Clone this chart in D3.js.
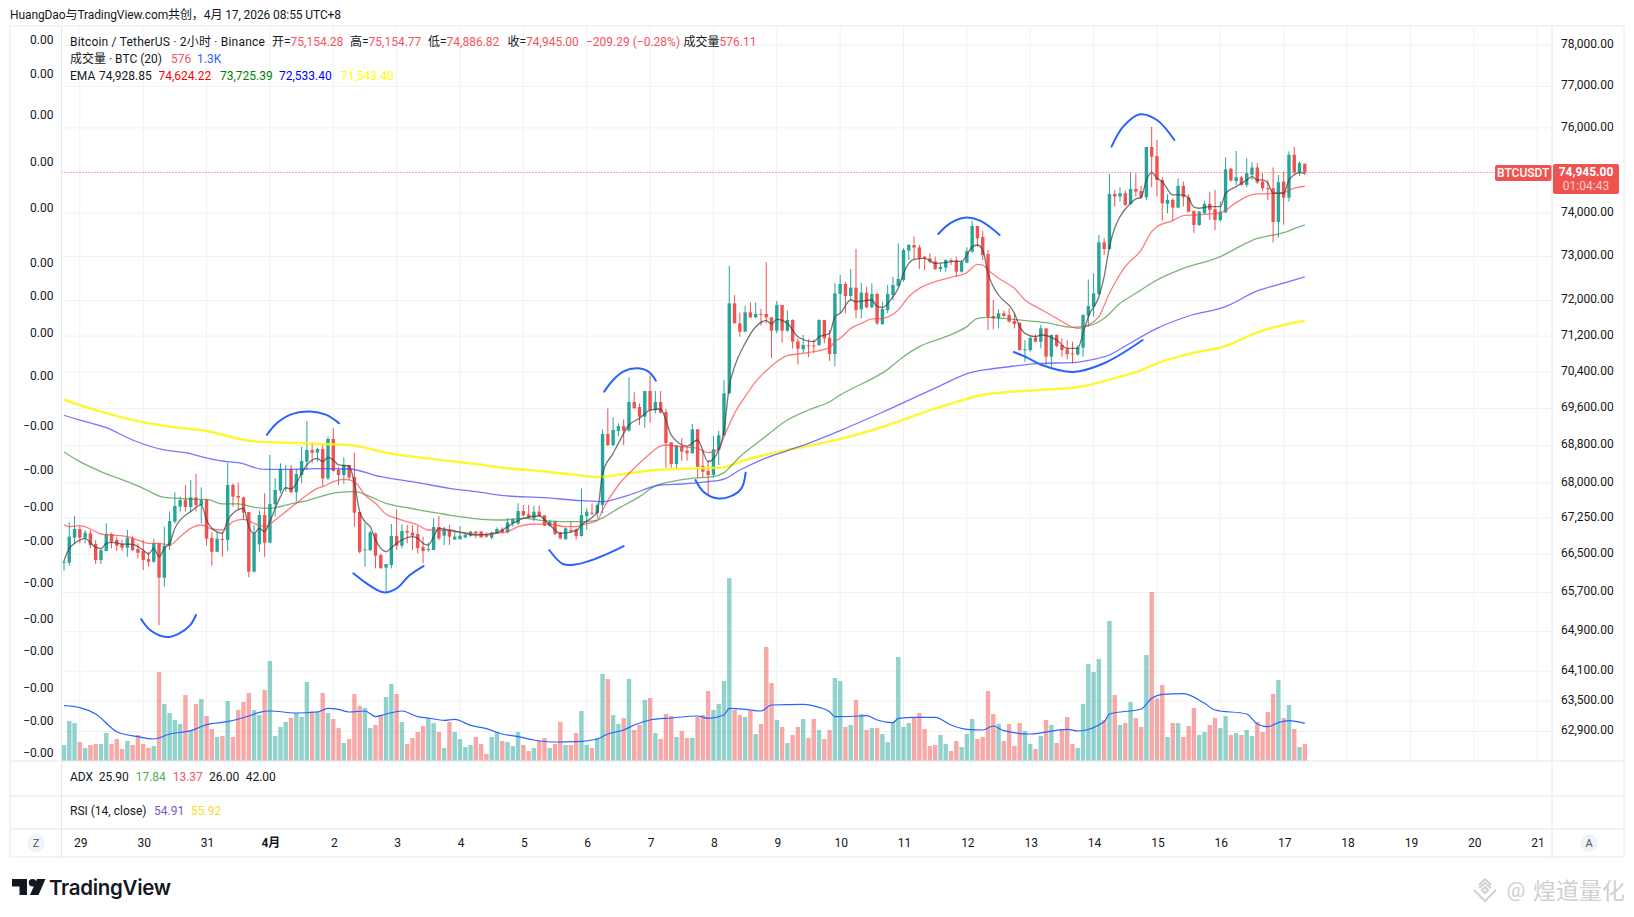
<!DOCTYPE html>
<html><head><meta charset="utf-8">
<script src="https://cdnjs.cloudflare.com/ajax/libs/d3/7.8.5/d3.min.js"></script>
<style>
html,body{margin:0;padding:0;background:#fff;overflow:hidden}
svg{display:block}
text{font-family:Roboto,"Noto Sans CJK SC",sans-serif;font-size:12px;fill:#131722}
</style></head><body>
<svg id="c" width="1634" height="917"></svg>
<script>
// ---------- DATA (2h BTCUSDT bars, first bar = 28 Mar 18:00) ----------
const opens=[66318,66318,66840,67022,66840,66931,66707,66373,66560,66917,66791,66707,66630,66826,66602,66560,66392,66338,66721,66007,66672,67176,67494,67634,67487,67691,67529,67648,66833,66546,66812,66791,67953,67720,67691,67381,66132,66700,67316,66735,67543,67833,67882,68295,67798,68166,68452,68703,68645,68725,68095,68940,68273,68166,68381,68123,67381,66581,66581,66931,66476,66214,66270,66875,66672,66980,66945,66917,66644,66588,66581,67064,66882,67001,
66805,66812,66847,66882,66966,66966,66896,66840,66931,67015,66952,67141,67141,67401,67331,67246,67387,67310,67092,67176,66945,66805,67001,67015,66875,67296,67366,67352,67528,69049,68810,69114,69220,69121,69743,69634,69424,69985,69569,69743,69525,68867,68401,68788,68688,68631,69150,68359,68252,68166,68703,69020,69934,71935,71485,71298,71733,71620,71695,71695,71620,71321,71898,71321,71560,71082,70904,70993,70993,71001,71560,71165,70801,
72146,72372,72100,72289,71800,72176,71845,72146,71470,71785,72123,72327,72463,73132,73262,73208,72994,72956,72888,72713,72743,72918,72910,72652,72857,73109,73700,73446,73055,71650,71598,71710,71673,71538,71500,70890,70890,71164,71075,71373,70742,71224,71001,70905,70816,70794,70942,71658,71860,72146,73323,73170,74445,74383,74461,74212,74561,74515,74367,75548,75335,74771,74212,74305,74127,74631,74367,74049,73723,73994,74212,74088,73839,74018,75037,74748,74834,74657,74892,75065,74735,74578,74578,73793,74735,74358,75363,74947,75154.28];
const closes=[66338,66861,67022,66840,66945,66686,66373,66581,66917,66756,66672,66630,66840,66581,66525,66373,66338,66721,66007,66672,67190,67508,67634,67487,67691,67529,67634,66819,66546,66819,66798,67953,67705,67684,67367,66132,66931,67316,66735,67550,67847,68295,67896,67798,68188,68466,68703,68645,68725,68095,68940,68252,68166,68381,68116,67367,66546,66595,66952,66462,66207,66290,66875,66672,66980,66945,66882,66623,66560,66602,67064,66826,67015,66861,
66861,66882,66896,66966,66931,66847,66861,66945,67022,66945,67162,67225,67401,67310,67267,67387,67296,67092,67176,66917,66826,67036,66980,66875,67316,67387,67352,67528,69049,68810,69135,69220,69121,69743,69605,69424,69985,69569,69743,69511,68853,68401,68796,68667,68631,69150,68344,68237,68166,68717,69020,69934,71935,71485,71298,71733,71620,71695,71680,71620,71321,71898,71321,71560,71075,70919,71001,70978,70978,71560,71150,70801,72161,
72372,72100,72289,71785,72176,71845,72146,71485,71808,72146,72350,72486,73147,73262,73201,72956,72956,72880,72713,72766,72918,72888,72652,72865,73124,73700,73415,73032,71635,71598,71710,71650,71523,71470,70890,70905,71164,71075,71373,70742,71224,70979,70890,70801,70801,70949,71673,71875,72161,73323,73170,74445,74383,74461,74189,74561,74499,74367,75548,75319,74771,74227,74305,74127,74631,74367,74033,73723,74033,74212,74072,73839,74033,75021,74755,74834,74654,74931,75065,74712,74578,74562,73793,74720,74358,75363,74947,75167,74945];
const highs=[66373,67162,67296,67092,67001,67001,66791,66616,67141,66945,66861,66791,67001,66882,66721,66791,66546,66812,66721,67071,67388,67798,67705,67953,68059,68188,67903,67648,66952,66952,66966,68423,67988,68002,67705,67381,67106,67409,67776,68595,68095,68416,68380,68380,68295,68773,69329,68867,68753,68810,68991,69172,68331,68545,68381,68645,67381,67141,66987,66945,66511,66290,67127,67437,67120,67106,67106,67092,66861,66742,67246,67296,67071,67106,
66966,67085,66945,66987,66987,66987,66945,66966,67057,67057,67246,67246,67564,67528,67528,67514,67514,67310,67211,67197,66966,67057,67176,67036,67876,67458,67564,67564,69150,69605,69409,69278,69366,70285,69956,69714,69985,70322,69985,69985,69591,68867,68810,68954,68774,69265,69150,68703,68487,69005,69121,70226,72780,72123,71725,71875,71958,71958,71808,72865,71620,71988,71898,71770,71575,71150,71225,71127,71127,71575,71560,71337,72387,
72577,72425,72713,73170,72402,72312,72387,72176,71973,72350,72539,73300,73185,73285,73454,73262,73017,73070,72994,72842,72933,72956,72994,72918,73208,73824,73700,73592,73147,72010,71800,71770,71823,71710,71500,71112,71172,71239,71448,71373,71239,71239,71150,71112,71075,71001,71688,72478,72614,73493,73415,74911,74538,74600,74523,74941,74926,74632,75548,76026,75714,74834,74437,74344,74810,74732,74437,74049,74049,74282,74499,74538,74266,75303,75060,75453,74865,75285,75190,75167,74931,74775,75065,74892,74970,75442,75560,75206,75154.77];
const lows=[66152,66256,66721,66721,66721,66616,66290,66290,66560,66616,66560,66560,66441,66560,66406,66166,66235,66318,65030,65821,66581,67141,67388,67388,67388,67388,67141,66672,66256,66546,66441,66567,67494,67437,67211,66014,66111,66546,66441,66721,67282,67776,67812,67776,67599,67988,68273,68416,68452,67932,68059,68238,67953,67974,68059,67071,66511,66235,66560,66200,66187,65717,66200,66581,66616,66721,66581,66511,66304,66546,66581,66791,66686,66686,
66791,66791,66826,66861,66826,66840,66840,66805,66917,66931,66931,67071,67106,67281,67246,67190,67281,67085,67071,66896,66805,66805,66931,66805,66861,67001,67316,67246,67352,68788,68788,69005,68810,69100,69605,69243,69185,69293,69496,69496,68323,68323,68309,68473,68473,68631,68095,68116,67740,68116,68380,68990,69919,71485,71186,71298,71598,71598,71433,71485,70712,71261,71053,71298,70919,70571,70816,70727,70816,70978,71038,70646,70535,
71710,71710,72010,71598,71598,71823,71823,71448,71448,71710,72010,72312,72425,72918,72918,72713,72690,72842,72690,72652,72652,72804,72539,72630,72842,73086,73224,72918,71336,71351,71373,71620,71500,71373,70875,70631,70853,71060,70927,70557,70520,70949,70742,70683,70594,70757,70742,71411,71635,72123,73032,73147,74150,74266,74166,74189,74383,74344,74305,74600,74383,73824,73994,73824,74111,74150,74010,73539,73700,73979,73839,73608,73800,73994,74732,74654,74638,74602,74775,74680,74515,74303,73320,73440,73730,74265,74892,74868,74886.82];
const volumes=[542,1356,1288,644,441,542,576,576,949,576,746,407,678,542,881,576,441,508,3017,1932,1627,1390,1254,2237,1017,1932,2102,1525,1085,814,848,2034,814,1729,2000,2305,1729,1559,2407,3390,848,1153,1322,1458,1627,1492,2678,1695,1695,2305,1627,1424,1119,610,746,2271,1865,1797,1119,1220,1525,2170,2610,2271,1322,576,780,983,1186,1458,1288,983,441,1322,983,746,475,542,814,576,237,814,983,678,644,508,983,542,339,441,678,780,441,576,1322,542,542,949,1695,542,441,780,2949,2780,1559,1254,1458,2780,1051,1220,2068,2136,949,746,1593,1525,814,1017,780,
780,1492,1559,2373,1729,1932,2712,6204,1729,1559,1492,1695,915,1254,3865,2644,1390,1153,610,881,1153,1424,780,1424,1051,746,1051,2814,2712,1153,1220,2068,1593,1051,1119,1119,915,644,1322,3526,1153,1288,1492,1627,1085,508,542,881,576,339,678,475,915,1424,746,814,2373,1593,1254,678,1254,508,1288,1017,576,407,848,1390,1220,610,1085,1492,576,441,1932,3288,3017,3458,1390,4746,2237,1220,1288,2000,1458,1153,3593,5729,2124,2576,814,1288,1288,814,1186,1797,881,983,1220,1458,1119,1525,881,949,881,1051,848,1322,983,1661,2271,2746,1458,1898,1085,475,576];

const volMaIdx=[0,3,6,10,14,17,20,24,27,31,35,37,39,44,48,50,52,54,57,59,61,64,67,69,72,74,77,80,83,86,89,93,97,101,103,106,108,111,115,120,122,125,126,129,132,134,140,143,145,146,151,152,154,157,158,161,165,168,171,174,176,178,183,190,192,197,198,204,206,208,212,216,218,224,226,228,230,232,235];
const volMa=[1876,1808,1593,994,825,746,915,1028,1232,1333,1525,1650,1695,1627,1661,1785,1752,1661,1695,1503,1593,1695,1503,1458,1379,1413,1209,1096,915,825,712,644,655,746,915,1051,1220,1390,1458,1526,1446,1559,1785,1752,1695,1898,1921,1819,1672,1503,1526,1537,1390,1300,1446,1480,1480,1220,1074,1051,1187,1028,915,1074,1017,1333,1593,1763,2124,2260,2283,1955,1729,1593,1254,1164,1300,1367,1277];

const ema1Idx=[0,1,2,3,4,5,6,7,8,9,11,13,15,16,17,18,19,20,21,22,24,26,27,28,30,31,32,34,35,36,37,38,39,40,41,42,43,44,45,46,48,49,50,51,52,54,55,56,57,58,59,60,61,62,64,66,67,68,69,70,71,73,78,82,85,87,90,92,94,97,98,101,102,104,105,107,109,111,113,114,115,118,120,122,124,125,126,127,129,131,133,134,135,137,139,142,143,145,146,147,149,150,153,154,155,157,158,159,160,161,163,165,167,169,170,171,172,173,174,175,176,177,180,181,182,184,185,188,190,192,193,194,196,197,198,199,200,202,203,204,205,206,207,208,210,212,213,214,215,217,219,220,222,224,225,226,227,228,229,230,231,232,233,234,235];
const ema1=[66359,66616,66721,66791,66826,66735,66637,66616,66721,66742,66707,66700,66581,66497,66616,66441,66616,66721,67036,67211,67388,67529,67211,67036,66931,67211,67352,67458,67071,66931,67036,66966,67176,67458,67705,67896,67868,67988,68202,68381,68524,68452,68545,68487,68381,68359,67988,67388,67176,67071,66791,66616,66546,66630,66791,66861,66826,66721,66686,66861,67036,67001,66896,66945,67141,67246,67296,67106,66931,66987,67106,67387,68202,68631,68846,69243,69387,69569,69591,69351,69026,68788,68918,68451,68703,69135,70080,70520,71038,71410,71545,71470,71575,71485,71186,71075,71186,71261,71635,71710,72010,71973,72010,71860,71845,72085,72274,72614,72842,72933,72956,72842,72857,72895,72880,73032,73224,73262,73147,72614,72312,72123,71710,71411,71261,71186,71224,71112,70927,70927,71261,71635,72085,72539,73224,73654,73917,74227,74328,74360,74771,74950,74810,74732,74421,74421,74344,74135,74111,74150,74150,74461,74616,74771,74850,74771,74775,74696,74460,74460,74460,74775,74892,74947,74928.85];
const ema2Idx=[0,1,3,5,7,9,12,14,16,18,20,22,24,26,28,30,32,34,36,38,40,42,44,46,48,49,51,53,55,57,59,61,63,65,67,69,71,73,76,80,82,84,86,89,92,95,97,98,101,102,105,108,110,113,114,117,120,122,124,125,127,129,131,133,135,137,140,142,145,146,147,149,151,153,155,158,160,162,165,168,171,173,174,175,177,180,182,185,188,192,194,196,198,201,204,206,207,210,212,214,216,219,222,224,226,227,229,231,233,235];
const ema2=[67113,67071,67092,67022,66917,66896,66861,66791,66721,66721,66686,66861,67036,67106,67022,67001,67176,67225,67141,67071,67211,67388,67564,67741,67882,67917,68024,68073,68024,67741,67564,67331,67246,67176,67106,67001,67001,66987,66945,66896,66931,66966,67071,67127,67120,67071,67071,67106,67197,67422,67953,68309,68523,68788,68810,68774,68738,68645,68717,68990,69496,69860,70190,70432,70631,70764,70816,70853,70949,71075,71150,71373,71485,71583,71598,71785,72085,72274,72425,72524,72630,72820,72804,72690,72501,72274,72010,71800,71598,71373,71448,71635,72161,72766,73147,73569,73685,73824,73940,73955,73970,74010,74243,74383,74445,74445,74460,74476,74578,74624.22];
const ema3Idx=[0,3,7,12,15,19,22,25,27,30,33,36,39,43,46,49,52,55,58,61,65,69,73,75,79,83,87,91,95,98,101,105,109,112,115,119,123,125,128,132,137,141,145,147,156,159,162,167,171,173,175,178,182,186,191,194,197,200,203,207,212,219,222,226,229,231,233,235];
const ema3=[68659,68452,68238,68024,67882,67691,67670,67648,67648,67550,67550,67480,67458,67550,67620,67720,67798,67812,67705,67564,67472,67388,67316,67281,67225,67211,67246,67197,67176,67176,67211,67458,67705,67931,68024,68095,68130,68216,68559,68918,69351,69569,69750,69897,70461,70742,70964,71186,71411,71598,71620,71598,71545,71500,71396,71426,71598,71935,72161,72463,72728,72994,73185,73415,73492,73545,73640,73725.39];
const ema4Idx=[0,3,8,13,19,23,26,30,33,38,43,48,54,60,67,73,78,84,90,98,102,107,113,117,122,125,128,132,137,141,147,155,165,172,175,180,185,191,195,198,201,207,213,220,226,231,235];
const ema4=[69453,69351,69187,68918,68703,68645,68559,68466,68430,68288,68288,68302,68295,68130,68002,67882,67811,67720,67691,67620,67599,67740,67953,67974,68024,68080,68273,68487,68688,68846,69121,69520,70050,70400,70461,70535,70594,70609,70683,70779,70979,71373,71650,71860,72214,72390,72533.4];
const ema5Idx=[0,7,16,20,27,35,38,42,48,54,61,67,73,78,84,90,97,101,107,112,120,125,128,134,141,147,155,165,175,184,193,200,204,207,213,220,226,231,235];
const ema5=[69794,69533,69279,69206,69114,68904,68875,68860,68831,68810,68645,68545,68466,68401,68309,68252,68166,68124,68202,68273,68309,68330,68451,68631,68788,68940,69200,69600,69920,70000,70090,70300,70440,70594,70801,70979,71283,71450,71543.4];

// hand-drawn blue arcs: bar-index positions and prices
const arcIdx=[[14.6,16.3,19.3,21.6,23.9,25],[38.4,40.3,42.8,46.6,49.7,52.1],[54.8,57.3,60.5,63,65.5,68.1],[91.9,94.5,96.8,99.4,102.8,106],[102.3,104,105.9,108.5,110.7,112.1],[119.6,121.1,123.6,126.1,128.3,129.1],[165.6,167.8,170.6,173.5,177.2],[179.9,182.6,185.2,191.1,197.1,204.3],[198.4,200.6,203.8,207,210.3]];
const arcPrice=[[65156,64932,64790,64850,65034,65240],[69027,69281,69463,69536,69463,69281],[66097,65890,65704,65786,66062,66249],[66582,66291,66280,66353,66498,66665],[69970,70226,70410,70484,70410,70211],[68059,67811,67670,67705,67882,68216],[73516,73762,73893,73824,73493],[70845,70712,70557,70405,70602,71112],[75556,76031,76326,76190,75714]];

const priceTicks=[78000,77000,76000,74000,73000,72000,71200,70400,69600,68800,68000,67250,66500,65700,64900,64100,63500,62900];
const dayLabels=["29","30","31","4月","2","3","4","5","6","7","8","9","10","11","12","13","14","15","16","17","18","19","20","21"];
const leftLabels=["0.00","0.00","0.00","0.00","0.00","0.00","0.00","0.00","0.00","−0.00","−0.00","−0.00","−0.00","−0.00","−0.00","−0.00","−0.00","−0.00","−0.00"];
const lastPrice=74945;

// ---------- LAYOUT ----------
const L=61.5,R=1552,T=26,OUT_L=10,OUT_R=1624,P1=761,P2=796,P3=829,P4=857;
const leftLabelY=[39.5,74,114.5,161.5,207.5,262.5,296,332.5,376,426,470,507,541,582.5,619,651,688,721,753];
const UP="#26a69a",DN="#ef5350";

const x=d3.scaleLinear().domain([0,1]).range([64,69.28]);
const y=d3.scaleLog().domain([62900,78000]).range([731.5,45.1]);
const v=d3.scaleLinear().domain([0,6204]).range([P1,578]);

const svg=d3.select("#c");
const bars=d3.range(opens.length);
const isUp=i=>closes[i]>=opens[i];

// grid
const dayIdx=dayLabels.map((_,k)=>3+12*k);
svg.append("g").selectAll("line").data(dayIdx).join("line")
 .attr("x1",d=>x(d)).attr("x2",d=>x(d)).attr("y1",T).attr("y2",P1).attr("stroke","#f0f1f4");
svg.append("g").selectAll("line").data(priceTicks).join("line")
 .attr("x1",L).attr("x2",R).attr("y1",d=>y(d)).attr("y2",d=>y(d)).attr("stroke","#f0f1f4");

// volume
svg.append("g").selectAll("rect").data(bars).join("rect")
 .attr("x",i=>x(i)-2.2).attr("width",4.4)
 .attr("y",i=>v(volumes[i])).attr("height",i=>P1-v(volumes[i]))
 .attr("fill",i=>isUp(i)?UP:DN).attr("fill-opacity",.5);
const volLine=d3.line().x((d,k)=>x(volMaIdx[k])).y(d=>v(d)).curve(d3.curveMonotoneX);
svg.append("path").attr("d",volLine(volMa)).attr("fill","none").attr("stroke","#2962ff").attr("stroke-width",1.2);

// candles
svg.append("g").selectAll("line").data(bars).join("line")
 .attr("x1",i=>x(i)).attr("x2",i=>x(i)).attr("y1",i=>y(highs[i])).attr("y2",i=>y(lows[i]))
 .attr("stroke",i=>isUp(i)?UP:DN).attr("stroke-width",1);
svg.append("g").selectAll("rect").data(bars).join("rect")
 .attr("x",i=>x(i)-1.7).attr("width",3.4)
 .attr("y",i=>y(Math.max(opens[i],closes[i])))
 .attr("height",i=>Math.max(1,y(Math.min(opens[i],closes[i]))-y(Math.max(opens[i],closes[i]))))
 .attr("fill",i=>isUp(i)?UP:DN);

// EMA lines
function ema(idx,vals,col,w){
 const ln=d3.line().x((d,k)=>x(idx[k])).y(d=>y(d)).curve(d3.curveMonotoneX);
 svg.append("path").attr("d",ln(vals)).attr("fill","none").attr("stroke",col).attr("stroke-width",w);
}
ema(ema5Idx,ema5,"rgba(255,245,20,.85)",2.5);
ema(ema4Idx,ema4,"rgba(60,60,255,.7)",1.3);
ema(ema3Idx,ema3,"rgba(50,140,50,.65)",1.3);
ema(ema2Idx,ema2,"rgba(255,70,70,.7)",1.3);
ema(ema1Idx,ema1,"rgba(60,60,60,.7)",1.3);

// price line
const py0=Math.floor(y(lastPrice))+.5;
svg.append("line").attr("x1",L).attr("x2",1496).attr("y1",py0).attr("y2",py0)
 .attr("stroke",DN).attr("stroke-width",1).attr("stroke-dasharray","1 2");

// drawings
const arcLine=d3.line().x(d=>x(d[0])).y(d=>y(d[1])).curve(d3.curveCatmullRom.alpha(.5));
arcIdx.forEach((a,k)=>{
 svg.append("path").attr("d",arcLine(a.map((d,j)=>[d,arcPrice[k][j]])))
  .attr("fill","none").attr("stroke","#2962ff").attr("stroke-width",2).attr("stroke-linecap","round");
});

// frame & pane borders
const bc="#e4e6ec";
svg.append("rect").attr("x",OUT_L).attr("y",T).attr("width",OUT_R-OUT_L).attr("height",P4-T).attr("fill","none").attr("stroke","#eff0f3").attr("stroke-width",1.5);
[[OUT_L,OUT_R,P1],[OUT_L,OUT_R,P2],[OUT_L,OUT_R,P3]].forEach(a=>svg.append("line").attr("x1",a[0]).attr("x2",a[1]).attr("y1",a[2]).attr("y2",a[2]).attr("stroke",bc));
[L,R].forEach(a=>svg.append("line").attr("x1",a).attr("x2",a).attr("y1",T).attr("y2",P4).attr("stroke",bc));

// right axis
const ya=svg.append("g").attr("transform",`translate(${R},0)`)
 .call(d3.axisRight(y).tickValues(priceTicks).tickFormat(d3.format(",.2f")).tickSize(0).tickPadding(9));
ya.select(".domain").remove();
ya.selectAll("text").style("font-size","12px").style("font-family","Roboto").attr("fill","#131722").attr("transform","translate(0,-1.5)");

// time axis
const ta=svg.append("g").attr("transform",`translate(0.5,${P3})`)
 .call(d3.axisBottom(x).tickValues(dayIdx).tickFormat((d,k)=>dayLabels[k]).tickSize(0).tickPadding(9));
ta.select(".domain").remove();
ta.selectAll("text").style("font-size","12px").attr("fill","#131722").attr("font-weight",(d,k)=>dayLabels[k]==="4月"?700:400);

// left labels
svg.append("g").selectAll("text").data(leftLabels).join("text")
 .attr("x",53.5).attr("y",(d,k)=>leftLabelY[k]).attr("dy",".35em").attr("text-anchor","end").text(d=>d);

function t(s,px,py,col,extra){
 const e=svg.append("text").attr("x",px).attr("y",py).attr("dy",".35em").style("fill",col||"#131722").text(s);
 if(extra)extra(e);return e;
}
t("HuangDao与TradingView.com共创，4月 17, 2026 08:55 UTC+8",10,15,null,e=>e.style("letter-spacing","-.1px"));
const red="#f7525f";
t("Bitcoin / TetherUS · 2小时 · Binance",70,41.5,null,e=>e.style("letter-spacing",".2px"));
const fm=d3.format(",.2f");
[["开",opens,272],["高",highs,350],["低",lows,428],["收",closes,507.5]].forEach(a=>{
 const e=t(a[0]+"=",a[2],41.5);
 e.append("tspan").style("fill",red).text(fm(a[1][a[1].length-1]));
});
t("−209.29 (−0.28%)",586,41.5,red);
t("成交量",683.5,41.5).append("tspan").style("fill",red).text("576.11");
t("成交量 · BTC (20)",70,58.5);
t("576",171,58.5,red);
t("1.3K",197,58.5,"#2962ff");
t("EMA",70,75.5);
t(fm(ema1[ema1.length-1]),99,75.5,"#131722");
t(fm(ema2[ema2.length-1]),158.5,75.5,"#ff0000");
t(fm(ema3[ema3.length-1]),220,75.5,"#008000");
t(fm(ema4[ema4.length-1]),279,75.5,"#0000ff");
t(fm(ema5[ema5.length-1]),341,75.5,"#ffff00");
t("ADX",70,777);
t("25.90",98.7,777);
t("17.84",135.7,777,"#4caf50");
t("13.37",172.7,777,red);
t("26.00",209,777);
t("42.00",245.7,777);
t("RSI (14, close)",70,811);
t("54.91",154,811,"#7e57c2");
t("55.92",191,811,"#fdd835");

// price tags
svg.append("rect").attr("x",1495).attr("y",165).attr("width",56.5).attr("height",16).attr("rx",2).attr("fill",DN);
t("BTCUSDT",1523.2,173,"#fff",e=>e.attr("text-anchor","middle").style("font-weight",500));
svg.append("rect").attr("x",1553).attr("y",164).attr("width",66).attr("height",30).attr("rx",2).attr("fill",DN);
t(fm(lastPrice),1586,172,"#fff",e=>e.attr("text-anchor","middle").style("font-weight",700));
t("01:04:43",1586,186,"#fbd0cf",e=>e.attr("text-anchor","middle"));

// Z / A buttons
[[36,"Z"],[1589,"A"]].forEach(a=>{
 svg.append("circle").attr("cx",a[0]).attr("cy",843).attr("r",9).attr("fill","#f0f3fa");
 t(a[1],a[0],843.5,"#50535e",e=>e.attr("text-anchor","middle").style("font-size","11px"));
});

// TradingView logo
svg.append("path").attr("d","M12 879h15v16h-7.5v-8.5H12z M37 879h8.5L38.5 895H30z").attr("fill","#131722");
svg.append("circle").attr("cx",32.5).attr("cy",882.8).attr("r",3.7).attr("fill","#131722");
svg.append("text").attr("x",49).attr("y",894.5).text("TradingView")
 .style("font-family","Inter").style("font-size","20.5px").style("font-weight",600).style("letter-spacing","-.3px");

// watermark
const wm="#cfd0d2";
const dm=svg.append("g").attr("transform","translate(1485,890)").attr("fill","none").attr("stroke",wm).attr("stroke-width",2);
dm.append("path").attr("d","M0 -11L6 -5M0 -11L-6 -5M-11 0L-6 5L0 11L6 5L11 0M-6 -2L0 -7L6 -2");
dm.append("path").attr("d","M0 -3L3 0L0 3L-3 0Z");
t("@",1516,890,wm,e=>e.attr("text-anchor","middle").style("font-size","21px"));
t("煌道量化",1533,891,wm,e=>e.style("font-size","23px").style("font-family","'Noto Sans CJK SC'"));
</script>
</body></html>
